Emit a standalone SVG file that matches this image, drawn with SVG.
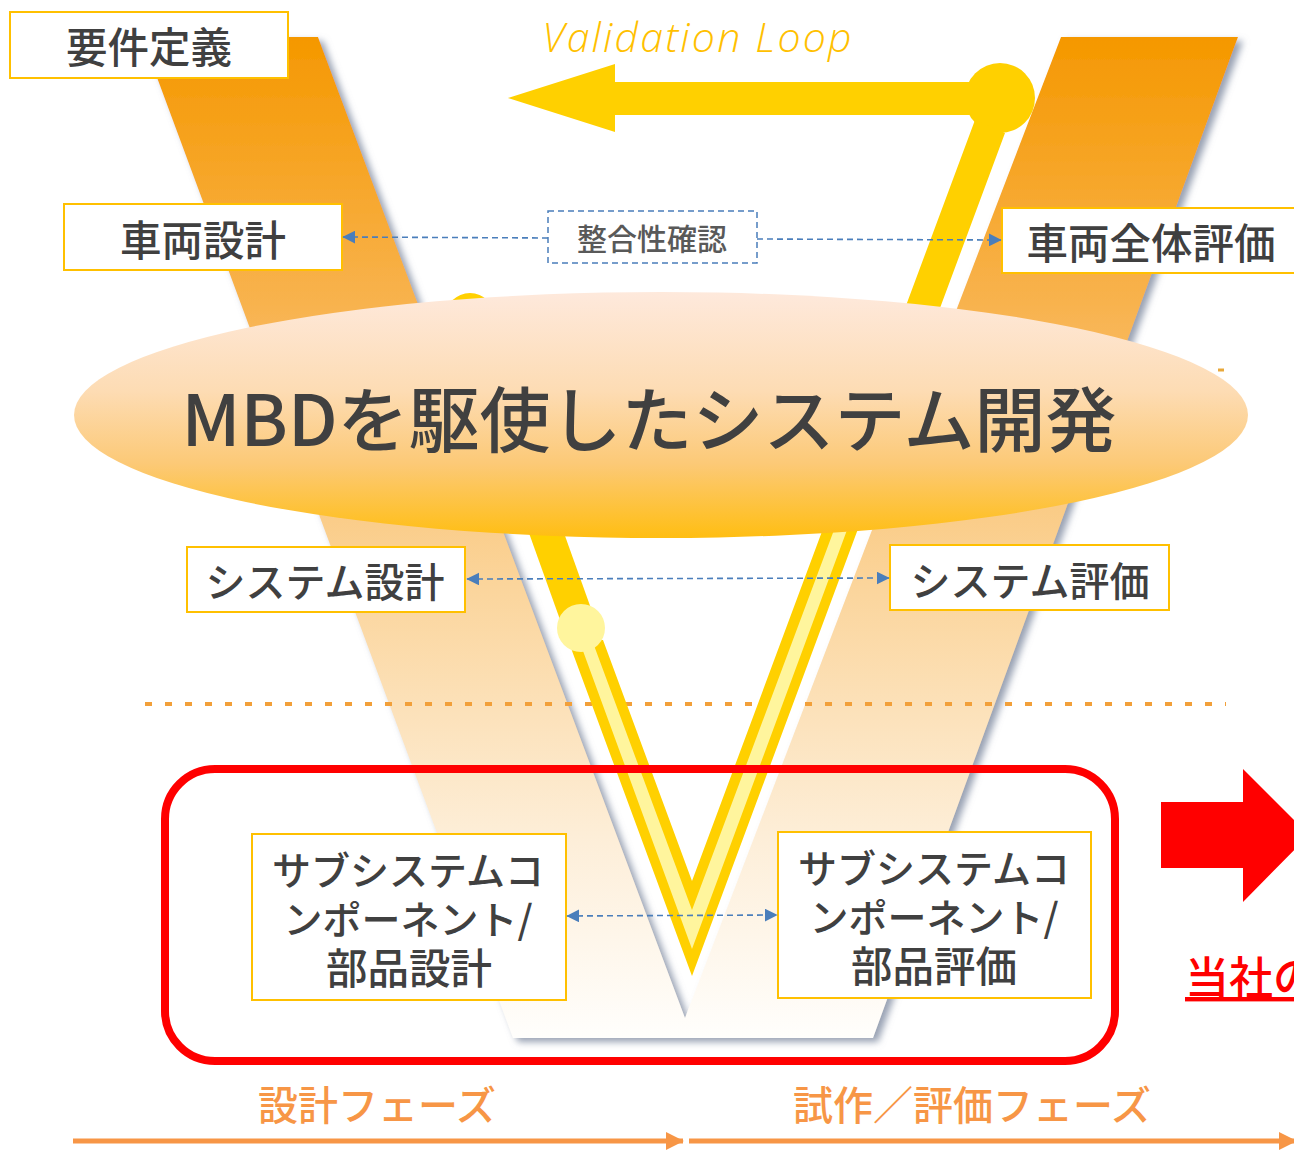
<svg xmlns="http://www.w3.org/2000/svg" width="1294" height="1150" viewBox="0 0 1294 1150">
<style>
.box{fill:#fff;stroke:#ffc000;stroke-width:2}
.t{font-family:"Noto Sans CJK JP","Noto Sans",sans-serif;fill:#404040;text-anchor:middle;font-size:41.5px;font-weight:500}
.link{fill:none;stroke:#4a7ebb;stroke-width:1.6;stroke-dasharray:6 4}
.or{font-family:"Noto Sans CJK JP",sans-serif;fill:#f79646;text-anchor:middle;font-size:40px;font-weight:500}
.y{fill:#ffd000}.p{fill:#fff59d}
</style>
<defs>
<linearGradient id="vg" gradientUnits="userSpaceOnUse" x1="0" y1="37" x2="0" y2="1038">
<stop offset="0" stop-color="#f59800"/><stop offset=".27" stop-color="#f8b34f"/><stop offset=".55" stop-color="#fbd59c"/><stop offset=".8" stop-color="#fdeed8"/><stop offset="1" stop-color="#fffefc"/>
</linearGradient>
<linearGradient id="eg" x1="0" y1="0" x2="0" y2="1">
<stop offset="0" stop-color="#fee9dc"/><stop offset=".4" stop-color="#fddcb4"/><stop offset=".7" stop-color="#fcc976"/><stop offset="1" stop-color="#ffbe12"/>
</linearGradient>
<filter id="sh" x="-5%" y="-5%" width="110%" height="110%"><feDropShadow dx="5" dy="4" stdDeviation="3.5" flood-color="#7f8aa0" flood-opacity=".8"/></filter>
<marker id="bl" viewBox="0 0 10 10" refX="9.5" refY="5" markerUnits="userSpaceOnUse" markerWidth="13" markerHeight="13" orient="auto-start-reverse"><path d="M0 0L10 5L0 10Z" fill="#4a7ebb"/></marker>
<marker id="oa" viewBox="0 0 10 10" refX="9.5" refY="5" markerUnits="userSpaceOnUse" markerWidth="18" markerHeight="18" orient="auto"><path d="M0 0L10 5L0 10Z" fill="#f79646"/></marker>
</defs>

<g id="v-shape">
<polygon points="142,37 318,37 685,1018 1061,37 1238,37 873,1038 513,1038" fill="url(#vg)" filter="url(#sh)"/>
</g>
<g id="divider">
<line x1="145" y1="704" x2="1226" y2="704" stroke="#f2a03a" stroke-width="4" stroke-dasharray="7 13"/>
<line x1="1218" y1="370" x2="1224" y2="370" stroke="#e8a83a" stroke-width="3"/>
</g>
<g id="validation-loop">
<polygon class="y" points="508,98 615,64 615,82 1000,82 1000,115 615,115 615,132"/>
<circle class="y" cx="1000" cy="98" r="35"/>
<polygon class="y" points="568,640 692,976 1005,133 975,120 692,881 603,640"/>
<polygon class="p" points="579,640 692,949 847,530 834,530 692,910 592,640"/>
<polygon class="y" points="452,318 487,318 598,628 563,628"/>
<circle class="y" cx="470" cy="318" r="25"/>
<circle class="p" cx="581" cy="628" r="24"/>
<text x="698" y="52" font-family="'Open Sans',sans-serif" font-style="italic" font-weight="300" font-size="41" letter-spacing="2.2" fill="#ffc000" text-anchor="middle">Validation Loop</text>
</g>

<g id="focus-frame">
<rect x="165" y="769" width="950" height="292" rx="50" fill="none" stroke="#ff0000" stroke-width="8"/>
</g>
<g id="mbd-ellipse">
<ellipse cx="661" cy="415" rx="587" ry="123" fill="url(#eg)"/>
<text x="649" y="446" font-family="'Noto Sans CJK JP',sans-serif" font-size="71" font-weight="500" fill="#404040" text-anchor="middle">MBDを駆使したシステム開発</text>
</g>

<g id="req"><rect class="box" x="10" y="12" width="278" height="66"/><text class="t" x="149" y="63">要件定義</text></g>
<g id="vehicle-design"><rect class="box" x="64" y="204" width="278" height="66"/><text class="t" x="203" y="256">車両設計</text></g>
<g id="vehicle-eval"><rect class="box" x="1002" y="208" width="300" height="65"/><text class="t" x="1151" y="259">車両全体評価</text></g>
<g id="check"><rect x="548" y="211" width="209" height="52" fill="#fff" stroke="#4a7ebb" stroke-width="1.5" stroke-dasharray="6 4"/><text class="t" x="652" y="250" style="font-size:30px;fill:#595959">整合性確認</text></g>
<g id="system-design"><rect class="box" x="187" y="547" width="278" height="65"/><text class="t" x="325" y="597" style="font-size:40px">システム設計</text></g>
<g id="system-eval"><rect class="box" x="890" y="545" width="279" height="65"/><text class="t" x="1030" y="596" style="font-size:40px">システム評価</text></g>
<g id="sub-design"><rect class="box" x="252" y="834" width="314" height="166"/>
<text class="t" x="408" y="885" style="font-size:39px">サブシステムコ</text><text class="t" x="408" y="934" style="font-size:39px">ンポーネント/</text><text class="t" x="409" y="984">部品設計</text></g>
<g id="sub-eval"><rect class="box" x="778" y="832" width="313" height="166"/>
<text class="t" x="934" y="883" style="font-size:39px">サブシステムコ</text><text class="t" x="934" y="932" style="font-size:39px">ンポーネント/</text><text class="t" x="934" y="982">部品評価</text></g>

<g id="result-arrow">
<polygon points="1161,802 1243,802 1243,769 1309,835 1243,902 1243,868 1161,868" fill="#ff0000"/>
<text x="1185" y="994" font-family="'Noto Sans CJK JP',sans-serif" font-size="44" font-weight="500" fill="#ff0000" text-decoration="underline">当社の</text>
</g>
<g id="phase-design"><text class="or" x="377" y="1120">設計フェーズ</text></g>
<g id="phase-eval"><text class="or" x="972" y="1120">試作／評価フェーズ</text></g>

<g id="connectors">
<path class="link" d="M548 238L343 237" marker-end="url(#bl)"/>
<path class="link" d="M757 239L1001 240" marker-end="url(#bl)"/>
<path class="link" d="M467 579L889 578" marker-start="url(#bl)" marker-end="url(#bl)"/>
<path class="link" d="M567 916L777 915" marker-start="url(#bl)" marker-end="url(#bl)"/>
<line x1="73" y1="1141" x2="683" y2="1141" stroke="#f79646" stroke-width="5" marker-end="url(#oa)"/>
<line x1="689" y1="1141" x2="1296" y2="1141" stroke="#f79646" stroke-width="5" marker-end="url(#oa)"/>
</g>
</svg>
